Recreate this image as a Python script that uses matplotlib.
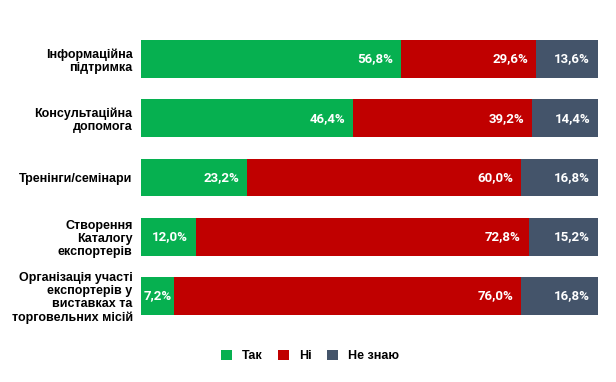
import matplotlib.pyplot as plt
import numpy as np
from matplotlib.patches import Patch

categories = [
    "Інформаційна\nпідтримка",
    "Консультаційна\nдопомога",
    "Тренінги/семінари",
    "Створення\nКаталогу\nекспортерів",
    "Організація участі\nекспортерів у\nвиставках та\nторговельних місій",
]
yes_vals = [56.8, 46.4, 23.2, 12.0, 7.2]
no_vals = [29.6, 39.2, 60.0, 72.8, 76.0]
dunno_vals = [13.6, 14.4, 16.8, 15.2, 16.8]
series_names = ["Так", "Ні", "Не знаю"]
colors = ["#06b050", "#c00000", "#44546a"]

fig = plt.figure(figsize=(6.16, 3.82), dpi=100)
ax = fig.add_axes([141 / 616, 1 - 325.6 / 382, 457 / 616, (325.6 - 29.4) / 382])

y = np.arange(len(categories))
left = np.zeros(len(categories))
for vals, col in zip([yes_vals, no_vals, dunno_vals], colors):
    vals = np.array(vals)
    ax.barh(y, vals, left=left, height=0.64, color=col, linewidth=0)
    for yi, l, v in zip(y, left, vals):
        # narrow segments get less padding so the label still fits
        pad = 1.7 if v >= 10 else 0.35
        ax.text(l + v - pad, yi, f"{v:.1f}%".replace(".", ","),
                ha="right", va="center", color="white", fontsize=9.5,
                fontweight="bold", family="Roboto")
    left += vals

ax.set_xlim(0, 100)
ax.set_ylim(len(categories) - 0.5, -0.5)
ax.set_yticks(y)
ax.set_yticklabels(categories, fontsize=9, fontweight="bold",
                   family="Liberation Sans", linespacing=1.1)
ax.tick_params(axis="y", length=0, pad=6)
ax.set_xticks([])
for s in ax.spines.values():
    s.set_visible(False)

handles = [Patch(facecolor=c, edgecolor="none") for c in colors]
fig.legend(handles, series_names, loc="center", bbox_to_anchor=(0.503, 1 - 356 / 382),
           ncol=3, frameon=False, handlelength=0.9, handleheight=0.9,
           columnspacing=1.2, handletextpad=0.8,
           prop={"family": "Liberation Sans", "weight": "bold", "size": 9})

fig.savefig("out.png", dpi=100)
